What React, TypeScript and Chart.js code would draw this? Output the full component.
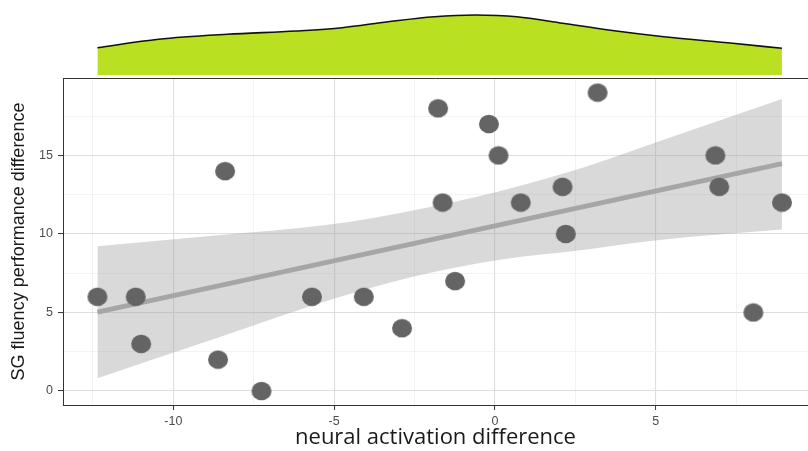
import React, { useEffect, useRef } from 'react';
import { Chart, registerables } from 'chart.js';

Chart.register(...registerables);

// axis ranges
const xRange = [-13.43, 9.73];
const yRange = [-0.89, 19.93];

// tick values and labels
const xTickValues = [-12.5, -10, -7.5, -5, -2.5, 0, 2.5, 5, 7.5];
const xTickLabels = ['', '-10', '', '-5', '', '0', '', '5', ''];
const yTickValues = [0, 2.5, 5, 7.5, 10, 12.5, 15, 17.5];
const yTickLabels = ['0', '', '5', '', '10', '', '15', ''];

// observations
const activationDiff = [
  -12.36, -11.17, -11.0, -8.61, -8.39, -7.26, -5.69, -4.08, -2.89, -1.77, -1.63,
  -1.24, -0.19, 0.11, 0.8, 2.1, 2.2, 3.19, 6.85, 6.97, 8.03, 8.92,
];
const fluencyDiff = [6, 6, 3, 2, 14, 0, 6, 6, 4, 18, 12, 7, 17, 15, 12, 13, 10, 19, 15, 13, 5, 12];

// linear fit
const fitX = [-12.36, 8.92];
const fitY = [5.02, 14.48];

// confidence band
const bandX = [-12.36, -8.6, -5.14, -2.55, 0.05, 2.65, 5.04, 8.92];
const bandUpper = [9.22, 9.92, 10.6, 11.5, 12.67, 14.16, 15.85, 18.6];
const bandLower = [0.81, 3.4, 5.79, 7.27, 8.33, 8.96, 9.6, 10.28];

// marginal density of activation difference
const densityX = [-12.36, -10.46, -8.32, -6.18, -4.75, -3.32, -1.89, -0.61, 0.68, 2.11, 3.53, 5.25, 7.39, 8.92];
const densityY = [0.0273, 0.0357, 0.0407, 0.044, 0.0473, 0.0533, 0.0583, 0.06, 0.0583, 0.0517, 0.045, 0.0383, 0.0317, 0.0267];
const densityMax = 0.075;

const zip = (xs: number[], ys: number[]) => xs.map((x, i) => ({ x, y: ys[i] }));

const isMajor = (v: number) => Math.abs(v % 5) < 1e-9;

function makeEllipse(): HTMLCanvasElement {
  const c = document.createElement('canvas');
  c.width = 22;
  c.height = 20;
  const g = c.getContext('2d')!;
  g.fillStyle = '#646464';
  g.beginPath();
  g.ellipse(11, 10, 10, 9.2, 0, 0, Math.PI * 2);
  g.fill();
  return c;
}

const panelTopBorder = {
  id: 'panelTopBorder',
  afterDatasetsDraw(chart: any) {
    const { ctx, chartArea } = chart;
    ctx.save();
    ctx.strokeStyle = '#333333';
    ctx.lineWidth = 1;
    ctx.beginPath();
    ctx.moveTo(chartArea.left, chartArea.top + 0.5);
    ctx.lineTo(chartArea.right, chartArea.top + 0.5);
    ctx.stroke();
    ctx.restore();
  },
};

export default function App() {
  const mainRef = useRef<HTMLCanvasElement>(null);
  const topRef = useRef<HTMLCanvasElement>(null);

  useEffect(() => {
    const gridColor = (ctx: any) => (ctx.tick && isMajor(ctx.tick.value) ? '#dedede' : '#f0f0f0');
    const gridWidth = (ctx: any) => (ctx.tick && isMajor(ctx.tick.value) ? 1.1 : 0.8);
    const tickColor = (ctx: any) => (ctx.tick && isMajor(ctx.tick.value) ? '#333333' : 'rgba(0,0,0,0)');

    const main = new Chart(mainRef.current!, {
      type: 'line',
      data: {
        datasets: [
          {
            label: 'participants',
            data: zip(activationDiff, fluencyDiff),
            showLine: false,
            pointStyle: makeEllipse(),
            pointRadius: 10,
            pointHoverRadius: 10,
            order: 0,
          } as any,
          {
            label: 'fit',
            data: zip(fitX, fitY),
            borderColor: '#a6a6a6',
            borderWidth: 5,
            pointRadius: 0,
            fill: false,
            order: 1,
          },
          {
            label: 'upper',
            data: zip(bandX, bandUpper),
            borderWidth: 0,
            borderColor: 'rgba(0,0,0,0)',
            pointRadius: 0,
            cubicInterpolationMode: 'monotone',
            fill: '+1',
            backgroundColor: 'rgba(150,150,150,0.36)',
            order: 2,
          },
          {
            label: 'lower',
            data: zip(bandX, bandLower),
            borderWidth: 0,
            borderColor: 'rgba(0,0,0,0)',
            pointRadius: 0,
            cubicInterpolationMode: 'monotone',
            fill: false,
            order: 3,
          },
        ],
      },
      options: {
        animation: false,
        responsive: false,
        events: [],
        layout: { autoPadding: false, padding: { top: 78, left: 0, right: 0, bottom: 0 } },
        plugins: { legend: { display: false }, tooltip: { enabled: false } },
        scales: {
          x: {
            type: 'linear',
            min: xRange[0],
            max: xRange[1],
            afterBuildTicks: (s: any) => {
              s.ticks = xTickValues.map((v) => ({ value: v }));
            },
            afterFit: (s: any) => {
              s.height = 46;
              s.paddingLeft = 0;
              s.paddingRight = 0;
            },
            ticks: {
              autoSkip: false,
              maxRotation: 0,
              padding: 4,
              color: '#4d4d4d',
              font: { family: 'Liberation Sans', size: 12.5 },
              callback: (v: any) => xTickLabels[xTickValues.indexOf(Number(v))] ?? '',
            },
            grid: { color: gridColor, lineWidth: gridWidth, tickLength: 5, tickColor, tickWidth: 1 },
            border: { display: true, color: '#333333', width: 1 },
            title: {
              display: true,
              text: 'neural activation difference',
              color: '#1a1a1a',
              font: { family: 'Open Sans', size: 22 },
              padding: { top: 0, bottom: 0 },
            },
          },
          y: {
            type: 'linear',
            min: yRange[0],
            max: yRange[1],
            afterBuildTicks: (s: any) => {
              s.ticks = yTickValues.map((v) => ({ value: v }));
            },
            afterFit: (s: any) => {
              s.width = 63;
              s.paddingTop = 0;
              s.paddingBottom = 0;
            },
            ticks: {
              autoSkip: false,
              padding: 5,
              color: '#4d4d4d',
              font: { family: 'Liberation Sans', size: 12.5 },
              callback: (v: any) => yTickLabels[yTickValues.indexOf(Number(v))] ?? '',
            },
            grid: { color: gridColor, lineWidth: gridWidth, tickLength: 5, tickColor, tickWidth: 1 },
            border: { display: true, color: '#333333', width: 1 },
            title: {
              display: true,
              text: 'SG fluency performance difference',
              color: '#1a1a1a',
              font: { family: 'Liberation Sans', size: 18 },
              padding: { top: 8, bottom: 0 },
            },
          },
        },
      } as any,
      plugins: [panelTopBorder],
    });

    const top = new Chart(topRef.current!, {
      type: 'line',
      data: {
        datasets: [
          {
            label: 'density',
            data: zip(densityX, densityY),
            borderColor: '#111111',
            borderWidth: 1.6,
            backgroundColor: '#b9e021',
            fill: 'origin',
            pointRadius: 0,
            cubicInterpolationMode: 'monotone',
          },
        ],
      },
      options: {
        animation: false,
        responsive: false,
        events: [],
        layout: { autoPadding: false, padding: { top: 0, left: 0, right: 0, bottom: 3 } },
        plugins: { legend: { display: false }, tooltip: { enabled: false } },
        scales: {
          x: { type: 'linear', min: xRange[0], max: xRange[1], display: false },
          y: {
            type: 'linear',
            min: 0,
            max: densityMax,
            display: true,
            ticks: { display: false },
            grid: { display: false },
            border: { display: false },
            afterFit: (s: any) => {
              s.width = 63;
              s.paddingTop = 0;
              s.paddingBottom = 0;
            },
          },
        },
      } as any,
    });

    return () => {
      main.destroy();
      top.destroy();
    };
  }, []);

  return (
    <div style={{ position: 'fixed', left: 0, top: 0, width: 808, height: 451, background: '#ffffff', overflow: 'hidden' }}>
      <canvas ref={mainRef} width={808} height={451} style={{ position: 'absolute', left: 0, top: 0 }} />
      <canvas ref={topRef} width={808} height={78} style={{ position: 'absolute', left: 0, top: 0 }} />
    </div>
  );
}
